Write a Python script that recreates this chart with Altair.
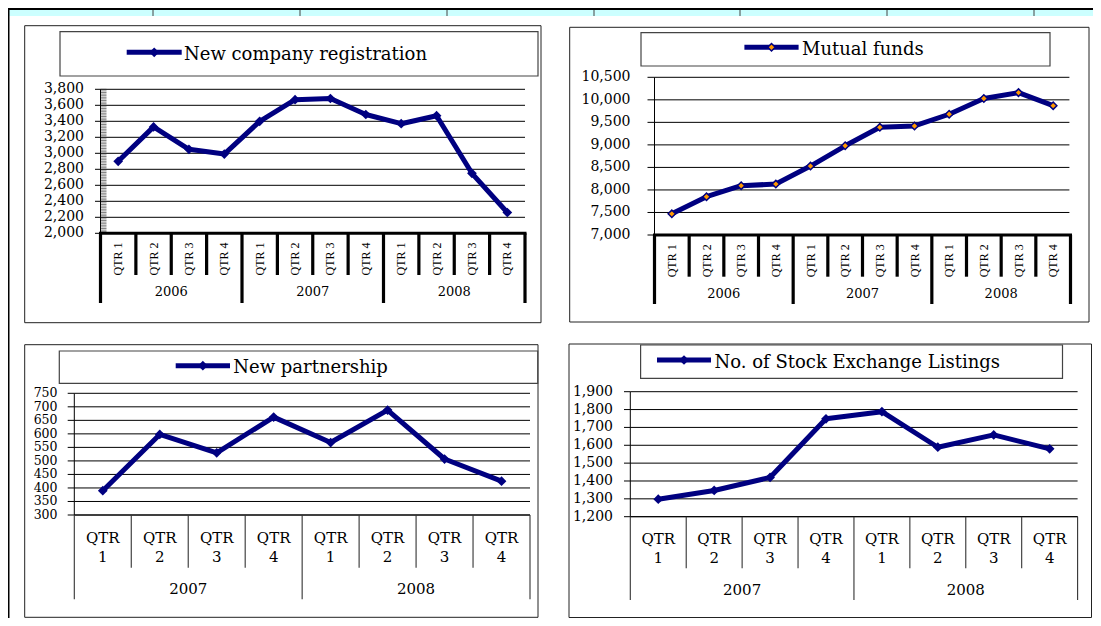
import altair as alt
import pandas as pd

# ---------------- data ----------------
quarter_labels = ["QTR 1", "QTR 2", "QTR 3", "QTR 4"]
years_a = ["2006", "2007", "2008"]
years_b = ["2007", "2008"]

company_registration = [2900, 3330, 3050, 2990, 3400, 3670, 3685, 3485, 3370, 3470, 2750, 2260]
mutual_funds = [7470, 7850, 8095, 8130, 8530, 8980, 9390, 9420, 9680, 10030, 10160, 9870]
new_partnership = [390, 598, 530, 662, 568, 688, 507, 425]
stock_listings = [1298, 1347, 1420, 1748, 1788, 1589, 1658, 1580]

ticks_company = [2000, 2200, 2400, 2600, 2800, 3000, 3200, 3400, 3600, 3800]
ticks_funds = [7000, 7500, 8000, 8500, 9000, 9500, 10000, 10500]
ticks_partner = [300, 350, 400, 450, 500, 550, 600, 650, 700, 750]
ticks_listings = [1200, 1300, 1400, 1500, 1600, 1700, 1800, 1900]
minor_company = list(range(2000, 3801, 20))

titles = ["New company registration", "Mutual funds", "New partnership",
          "No. of Stock Exchange Listings"]

# ---------------- styling / layout ----------------
NAVY = "#000080"
ORANGE = "#FF9900"
CYAN = "#CCFFFF"
SERIF = "DejaVu Serif"
OX = OY = 8
W, H = 1085, 610
one = pd.DataFrame({"k": [0]})


def px(v):
    return v - OX


def py(v):
    return v - OY


def rect(x0, x1, y0, y1, fill="white", stroke=None, sw=1.0):
    kw = dict(fill=fill, strokeWidth=0)
    if stroke:
        kw.update(stroke=stroke, strokeWidth=sw)
    return alt.Chart(one).mark_rect(**kw).encode(
        x=alt.value(px(x0)), x2=alt.value(px(x1)),
        y=alt.value(py(y0)), y2=alt.value(py(y1)))


def hrule(x0, x1, y, color="black", sw=1.0):
    return alt.Chart(one).mark_rule(color=color, strokeWidth=sw).encode(
        x=alt.value(px(x0)), x2=alt.value(px(x1)), y=alt.value(py(y)))


def vrule(x, y0, y1, color="black", sw=1.0):
    return alt.Chart(one).mark_rule(color=color, strokeWidth=sw).encode(
        x=alt.value(px(x)), y=alt.value(py(y0)), y2=alt.value(py(y1)))


def panel(g, values, years, ticks, title, excel_style, minor=None):
    n = len(values)
    cats = [q for _ in years for q in quarter_labels]
    xs = alt.Scale(domain=[-0.5, n - 0.5], range=[px(g["x0"]), px(g["x1"])],
                   nice=False, zero=False)
    ys = alt.Scale(domain=[ticks[0], ticks[-1]], range=[py(g["yb"]), py(g["yt"])],
                   nice=False, zero=False)
    df = pd.DataFrame({"i": list(range(n)), "v": values, "q": cats})
    dt = pd.DataFrame({"t": ticks})
    bounds = pd.DataFrame({"b": [k - 0.5 for k in range(n + 1)],
                           "yr": [k % 4 == 0 for k in range(n + 1)]})
    dy = pd.DataFrame({"p": [4 * j + 1.5 for j in range(len(years))], "y": years})

    X = lambda f: alt.X(f, scale=xs, axis=None)
    Y = lambda f: alt.Y(f, scale=ys, axis=None)

    layers = [rect(g["bx0"], g["bx1"], g["by0"], g["by1"], stroke="#222", sw=1)]

    # grid
    layers.append(alt.Chart(dt).mark_rule(color="black", strokeWidth=1).encode(
        y=Y("t:Q"), x=alt.value(px(g["x0"])), x2=alt.value(px(g["gx1"]))))
    # y labels
    layers.append(alt.Chart(dt).mark_text(align="right", baseline="middle", font=SERIF,
                                          fontSize=g.get("lab_fs", 14), color="black").encode(
        y=Y("t:Q"), x=alt.value(px(g["labx"])), text=alt.Text("t:Q", format=",")))
    # major ticks
    layers.append(alt.Chart(dt).mark_rule(color="black", strokeWidth=1).encode(
        y=Y("t:Q"), x=alt.value(px(g["tick0"])), x2=alt.value(px(g["x0"]))))
    # minor ticks
    if minor is not None:
        layers.append(alt.Chart(pd.DataFrame({"m": minor})).mark_rule(
            color="#333", strokeWidth=0.6).encode(
            y=Y("m:Q"), x=alt.value(px(g["x0"])), x2=alt.value(px(g["x0"] + 6))))
    # y axis line
    layers.append(vrule(g["x0"], g["yt"], g["yb"], "black", 1))

    if excel_style:
        sep_w, sep_c = 3.2, "black"
        layers.append(hrule(g["x0"] - 1.5, g["x1"] + 1.5, g["yb"], "black", 3))
    else:
        sep_w, sep_c = 1.1, "#333"
        layers.append(hrule(g["x0"], g["x1"], g["yb"], "black", 1))

    # category separators
    layers.append(alt.Chart(bounds).transform_filter("!datum.yr").mark_rule(
        color=sep_c, strokeWidth=sep_w).encode(
        x=X("b:Q"), y=alt.value(py(g["yb"])), y2=alt.value(py(g["sepq"]))))
    layers.append(alt.Chart(bounds).transform_filter("datum.yr").mark_rule(
        color=sep_c, strokeWidth=sep_w).encode(
        x=X("b:Q"), y=alt.value(py(g["yb"])), y2=alt.value(py(g["sepy"]))))

    # category labels
    if excel_style:
        layers.append(alt.Chart(df).mark_text(angle=270, align="center", baseline="middle",
                                              font="Liberation Serif", fontSize=12,
                                              color="black").encode(
            x=X("i:Q"), y=alt.value(py(g["cat_y"])), text="q:N"))
        ysize = 13
    else:
        layers.append(alt.Chart(df).mark_text(align="center", baseline="middle", font=SERIF,
                                              fontSize=15, lineBreak=" ", lineHeight=19.5,
                                              color="black").encode(
            x=X("i:Q"), y=alt.value(py(g["cat_y"])), text="q:N"))
        ysize = 15
    layers.append(alt.Chart(dy).mark_text(align="center", baseline="middle", font=SERIF,
                                          fontSize=ysize, color="black").encode(
        x=X("p:Q"), y=alt.value(py(g["year_y"])), text="y:N"))

    # data line + markers
    layers.append(alt.Chart(df).mark_line(color=NAVY, strokeWidth=5, strokeJoin="round").encode(
        x=X("i:Q"), y=Y("v:Q")))
    if g.get("orange"):
        pt = dict(shape="diamond", filled=True, fill=ORANGE, stroke=NAVY, strokeWidth=1.5,
                  size=55, opacity=1)
    else:
        pt = dict(shape="diamond", filled=True, color=NAVY, size=95, opacity=1)
    layers.append(alt.Chart(df).mark_point(**pt).encode(x=X("i:Q"), y=Y("v:Q")))

    # title / legend box
    layers.append(rect(g["tx0"], g["tx1"], g["ty0"], g["ty1"], stroke="#444", sw=1.2))
    layers.append(hrule(g["lx0"], g["lx1"], g["ly"], NAVY, 5))
    layers.append(alt.Chart(one).mark_point(**pt).encode(
        x=alt.value(px((g["lx0"] + g["lx1"]) / 2)), y=alt.value(py(g["ly"]))))
    layers.append(alt.Chart(one).mark_text(align="left", baseline="alphabetic", font=SERIF,
                                           fontSize=18, color="black").encode(
        x=alt.value(px(g["textx"])), y=alt.value(py(g["texty"])), text=alt.value(title)))
    return alt.layer(*layers)


TL = dict(bx0=24.7, bx1=541, by0=25.7, by1=322.7, tx0=60, tx1=538, ty0=31.7, ty1=76,
          lx0=126.7, lx1=181.7, ly=52.3, textx=184, texty=60,
          x0=100.5, x1=525, yb=233.3, yt=89.3, labx=84, tick0=95, gx1=525,
          sepq=275, sepy=303, cat_y=259, year_y=291.7)
TR = dict(bx0=569.7, bx1=1089, by0=27.3, by1=322, tx0=641, tx1=1050, ty0=32.7, ty1=66,
          lx0=744.4, lx1=798.6, ly=47.3, textx=802, texty=55,
          x0=654.5, x1=1070.5, yb=235, yt=77.3, labx=630.5, tick0=647.5, gx1=1069.4,
          sepq=276.7, sepy=304, cat_y=260.8, year_y=294, orange=True)
BL = dict(bx0=24.7, bx1=538, by0=344.7, by1=617.3, tx0=59.3, tx1=537.7, ty0=351, ty1=383.3,
          lx0=175.7, lx1=230, ly=365.7, textx=233.3, texty=373.3,
          x0=74.3, x1=530, yb=515, yt=393.3, labx=57.5, tick0=67.7, gx1=530,
          sepq=567.7, sepy=599.3, cat_y=537.5, year_y=589.3, lab_fs=12.5)
BR = dict(bx0=569, bx1=1091.5, by0=344, by1=617.5, tx0=640.6, tx1=1062.5, ty0=345, ty1=378.3,
          lx0=657, lx1=711, ly=360, textx=714.5, texty=368.3,
          x0=630.3, x1=1077.6, yb=516.7, yt=391.7, labx=613, tick0=624, gx1=1077.6,
          sepq=568.3, sepy=600, cat_y=538.5, year_y=590, lab_fs=14)

# page header decoration (black frame + cyan strip with table columns)
header = [
    rect(8, 1093, 10, 16, fill=CYAN),
    rect(8, 1093, 8, 10, fill="black"),
    rect(8, 9.5, 8, 618, fill="black"),
]
for cx in [153, 300, 447, 594, 740, 887, 1034]:
    header.append(vrule(cx, 10, 16, "#444", 1))

p1 = panel(TL, company_registration, years_a, ticks_company, titles[0], True, minor_company)
p2 = panel(TR, mutual_funds, years_a, ticks_funds, titles[1], True)
p3 = panel(BL, new_partnership, years_b, ticks_partner, titles[2], False)
p4 = panel(BR, stock_listings, years_b, ticks_listings, titles[3], False)

chart = alt.layer(*header, p1, p2, p3, p4).resolve_scale(
    x="independent", y="independent"
).properties(
    width=W, height=H, padding=0, background="white",
    autosize=alt.AutoSizeParams(type="none"),
).configure_view(stroke=None)

chart.save("out.html", embed_options={"renderer": "svg", "actions": False})
